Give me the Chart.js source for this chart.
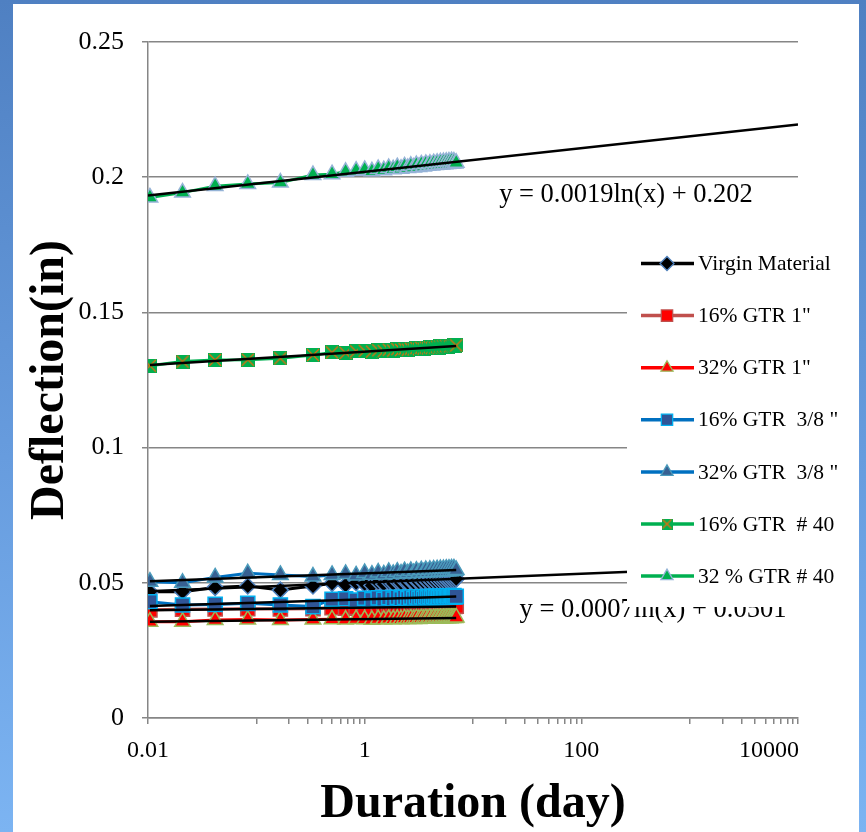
<!DOCTYPE html>
<html>
<head>
<meta charset="utf-8">
<script src="https://cdn.jsdelivr.net/npm/chart.js@4.4.1/dist/chart.umd.min.js"></script>
<style>
  html, body { margin: 0; padding: 0; }
  body {
    width: 866px; height: 832px; overflow: hidden; position: relative;
    background: linear-gradient(to bottom, #4f80c2 0%, #679cde 55%, #7cb4f2 100%);
  }
  #panel { position: absolute; left: 13px; top: 4px; width: 846px; height: 828px; background: #fff; }
  canvas { display: block; }
</style>
</head>
<body>
<div id="panel"><canvas id="deflectionChart" width="846" height="828"></canvas></div>
<script>
// readings: elapsed time in hours, deflection in inches
var durationHours = [0.25, 0.5, 1, 2, 4, 8, 12, 16, 20, 24,
    28, 32, 36, 40, 44, 48, 52, 56, 60, 64,
    68, 72, 76, 80, 84, 88, 92, 96, 100, 104,
    108, 112, 116, 120, 124, 128, 132, 136, 140, 144,
    148, 152, 156, 160, 164, 168];

var virginMaterial = [0.0467, 0.0467, 0.0483, 0.0488, 0.0473, 0.0488, 0.0498, 0.0492, 0.0500, 0.0496,
    0.0490, 0.0502, 0.0495, 0.0504, 0.0497, 0.0505, 0.0499, 0.0506, 0.0500, 0.0507,
    0.0501, 0.0508, 0.0502, 0.0509, 0.0503, 0.0510, 0.0504, 0.0510, 0.0505, 0.0511,
    0.0505, 0.0512, 0.0506, 0.0512, 0.0507, 0.0513, 0.0507, 0.0513, 0.0508, 0.0514,
    0.0508, 0.0514, 0.0509, 0.0515, 0.0510, 0.0515];

var gtr16OneInch = [0.0400, 0.0402, 0.0403, 0.0404, 0.0403, 0.0404, 0.0408, 0.0406, 0.0409, 0.0407,
    0.0405, 0.0409, 0.0406, 0.0410, 0.0407, 0.0410, 0.0407, 0.0411, 0.0408, 0.0411,
    0.0408, 0.0412, 0.0409, 0.0412, 0.0409, 0.0412, 0.0410, 0.0413, 0.0410, 0.0413,
    0.0410, 0.0413, 0.0411, 0.0414, 0.0411, 0.0414, 0.0411, 0.0414, 0.0412, 0.0415,
    0.0412, 0.0415, 0.0412, 0.0415, 0.0413, 0.0414];

var gtr32OneInch = [0.0356, 0.0356, 0.0362, 0.0364, 0.0362, 0.0364, 0.0365, 0.0364, 0.0366, 0.0365,
    0.0363, 0.0366, 0.0364, 0.0367, 0.0365, 0.0367, 0.0365, 0.0368, 0.0366, 0.0368,
    0.0366, 0.0369, 0.0366, 0.0369, 0.0367, 0.0369, 0.0367, 0.0370, 0.0367, 0.0370,
    0.0368, 0.0370, 0.0368, 0.0371, 0.0368, 0.0371, 0.0369, 0.0371, 0.0369, 0.0372,
    0.0369, 0.0372, 0.0370, 0.0372, 0.0370, 0.0372];

var gtr16ThreeEighth = [0.0430, 0.0418, 0.0420, 0.0424, 0.0418, 0.0412, 0.0439, 0.0441, 0.0436, 0.0443,
    0.0438, 0.0444, 0.0439, 0.0445, 0.0440, 0.0446, 0.0441, 0.0446, 0.0442, 0.0447,
    0.0442, 0.0448, 0.0443, 0.0448, 0.0443, 0.0449, 0.0444, 0.0449, 0.0444, 0.0450,
    0.0445, 0.0450, 0.0445, 0.0451, 0.0446, 0.0451, 0.0446, 0.0452, 0.0447, 0.0452,
    0.0447, 0.0452, 0.0448, 0.0453, 0.0448, 0.0450];

var gtr32ThreeEighth = [0.0504, 0.0500, 0.0520, 0.0535, 0.0529, 0.0523, 0.0529, 0.0533, 0.0527, 0.0536,
    0.0530, 0.0538, 0.0531, 0.0540, 0.0533, 0.0541, 0.0534, 0.0543, 0.0535, 0.0544,
    0.0536, 0.0545, 0.0537, 0.0546, 0.0538, 0.0547, 0.0539, 0.0548, 0.0540, 0.0549,
    0.0540, 0.0550, 0.0541, 0.0551, 0.0542, 0.0551, 0.0542, 0.0552, 0.0543, 0.0552,
    0.0543, 0.0553, 0.0544, 0.0553, 0.0545, 0.0547];

var gtr16No40 = [0.1303, 0.1318, 0.1324, 0.1325, 0.1330, 0.1342, 0.1352, 0.1350, 0.1356, 0.1358,
    0.1355, 0.1360, 0.1357, 0.1362, 0.1359, 0.1364, 0.1361, 0.1365, 0.1362, 0.1366,
    0.1363, 0.1368, 0.1364, 0.1369, 0.1366, 0.1370, 0.1367, 0.1371, 0.1368, 0.1372,
    0.1369, 0.1373, 0.1370, 0.1374, 0.1371, 0.1375, 0.1372, 0.1376, 0.1373, 0.1376,
    0.1374, 0.1377, 0.1375, 0.1378, 0.1376, 0.1378];

var gtr32No40 = [0.1925, 0.1943, 0.1967, 0.1975, 0.1980, 0.2008, 0.2011, 0.2020, 0.2024, 0.2027,
    0.2022, 0.2030, 0.2026, 0.2034, 0.2029, 0.2037, 0.2031, 0.2040, 0.2034, 0.2042,
    0.2036, 0.2045, 0.2038, 0.2047, 0.2040, 0.2049, 0.2042, 0.2050, 0.2043, 0.2052,
    0.2045, 0.2053, 0.2046, 0.2055, 0.2047, 0.2056, 0.2048, 0.2057, 0.2049, 0.2058,
    0.2050, 0.2059, 0.2050, 0.2058, 0.2051, 0.2053];

var seriesNames = ['Virgin Material', '16% GTR 1"', '32% GTR 1"', '16% GTR  3/8 "',
    '32% GTR  3/8 "', '16% GTR  # 40', '32 % GTR # 40'];

// Excel-style log trendlines shown with their equations (forecast out to the axis end)
var virginTrend = { slope: 0.0007, intercept: 0.0501, label: 'y = 0.0007ln(x) + 0.0501' };
var gtr32No40Trend = { slope: 0.0019, intercept: 0.202, label: 'y = 0.0019ln(x) + 0.202' };

var xLabelValues = [0.01, 1, 100, 10000];
var xTickLabels = ['0.01', '1', '100', '10000'];
var yTickLabels = ['0', '0.05', '0.1', '0.15', '0.2', '0.25'];

var SERIF = '"Liberation Serif", "Times New Roman", serif';

function crossSquare(size) {
    var c = document.createElement('canvas');
    c.width = size; c.height = size;
    var g = c.getContext('2d');
    g.fillStyle = '#00b050';
    g.fillRect(0, 0, size, size);
    g.strokeStyle = '#e46c0a';
    g.lineWidth = 1.3;
    g.beginPath();
    g.moveTo(1, 1); g.lineTo(size - 1, size - 1);
    g.moveTo(size - 1, 1); g.lineTo(1, size - 1);
    g.stroke();
    return c;
}

var seriesStyles = [
    { line: '#000000', fill: '#000000', edge: '#4f81bd', style: 'rectRot', radius: 8 },
    { line: '#c0504d', fill: '#ff0000', edge: '#c0504d', style: 'rect', radius: 10 },
    { line: '#ff0000', fill: '#ff0000', edge: '#9bbb59', style: 'triangle', radius: 9 },
    { line: '#0070c0', fill: '#2f5597', edge: '#00b0f0', style: 'rect', radius: 10 },
    { line: '#0070c0', fill: '#376092', edge: '#4a9abb', style: 'triangle', radius: 9 },
    { line: '#00b050', fill: '#00b050', edge: '#e46c0a', style: crossSquare(14), legendStyle: crossSquare(11), radius: 7 },
    { line: '#00b050', fill: '#00b050', edge: '#95b3d7', style: 'triangle', radius: 9 }
];

function logFit(xs, ys) {
    var n = xs.length, sx = 0, sy = 0, sxx = 0, sxy = 0;
    for (var i = 0; i < n; i++) {
        var lx = Math.log(xs[i]);
        sx += lx; sy += ys[i]; sxx += lx * lx; sxy += lx * ys[i];
    }
    var slope = (n * sxy - sx * sy) / (n * sxx - sx * sx);
    return { slope: slope, intercept: (sy - slope * sx) / n };
}

function trendPoints(fit, x0, x1) {
    return [x0, x1].map(function (x) { return { x: x, y: fit.slope * Math.log(x) + fit.intercept }; });
}

document.addEventListener('DOMContentLoaded', function () {
    var days = durationHours.map(function (h) { return h / 24; });
    var allSeries = [virginMaterial, gtr16OneInch, gtr32OneInch, gtr16ThreeEighth,
        gtr32ThreeEighth, gtr16No40, gtr32No40];

    var datasets = allSeries.map(function (vals, i) {
        var s = seriesStyles[i];
        return {
            label: seriesNames[i],
            data: vals.map(function (v, k) { return { x: days[k], y: v }; }),
            borderColor: s.line,
            borderWidth: 3,
            backgroundColor: s.fill,
            pointStyle: s.style,
            pointRadius: s.radius,
            pointBackgroundColor: s.fill,
            pointBorderColor: s.edge,
            pointBorderWidth: 1.5,
            tension: 0,
            order: 20 - i
        };
    });

    // black trendlines: forecast ones from the printed equations, the rest fitted to the data
    allSeries.forEach(function (vals, i) {
        var pts;
        if (i === 0) pts = trendPoints(virginTrend, 0.01, 10000);
        else if (i === 6) pts = trendPoints(gtr32No40Trend, 0.01, 10000);
        else pts = trendPoints(logFit(days, vals), days[0], days[days.length - 1]);
        datasets.push({
            label: 'trend ' + i,
            data: pts,
            borderColor: '#000000',
            borderWidth: 2.5,
            pointRadius: 0,
            tension: 0,
            order: 1
        });
    });

    var xTickValues = [0.01];
    [1, 100, 10000].forEach(function (major) {
        for (var m = 1; m <= 10; m++) xTickValues.push(major / 10 * m);
    });

    var overlayPlugin = {
        id: 'overlay',
        afterDatasetsDraw: function (chart) {
            var ctx = chart.ctx;
            var xs = chart.scales.x;
            ctx.save();
            ctx.fillStyle = '#000';
            ctx.font = '26.5px ' + SERIF;
            ctx.textAlign = 'center';
            ctx.textBaseline = 'middle';
            ctx.fillText(gtr32No40Trend.label, 613, 191);
            ctx.fillText(virginTrend.label, 640, 606);

            // last x label sits flush with the axis end, as in Excel
            ctx.font = '24px ' + SERIF;
            ctx.textAlign = 'right';
            ctx.fillText(xTickLabels[xTickLabels.length - 1], xs.right + 1, xs.top + 32.4);

            // legend box
            ctx.fillStyle = '#ffffff';
            ctx.fillRect(614, 232, 232, 371);
            ctx.font = '21.5px ' + SERIF;
            ctx.textAlign = 'left';
            seriesNames.forEach(function (name, i) {
                var s = seriesStyles[i];
                var y = 259.5 + i * 52.1;
                ctx.strokeStyle = s.line;
                ctx.lineWidth = 3.5;
                ctx.beginPath();
                ctx.moveTo(628, y);
                ctx.lineTo(681, y);
                ctx.stroke();
                ctx.fillStyle = s.fill;
                ctx.strokeStyle = s.edge;
                ctx.lineWidth = 1.3;
                Chart.helpers.drawPoint(ctx, {
                    pointStyle: s.legendStyle || s.style,
                    radius: s.style === 'rect' ? 8 : 7,
                    rotation: 0,
                    borderWidth: 1.3
                }, 654, y);
                ctx.fillStyle = '#000';
                ctx.fillText(name, 685, y + 1);
            });
            ctx.restore();
        }
    };

    var ctx = document.getElementById('deflectionChart').getContext('2d');
    new Chart(ctx, {
        type: 'line',
        data: { datasets: datasets },
        options: {
            responsive: false,
            animation: false,
            devicePixelRatio: 1,
            layout: { padding: { left: 0, right: 61, top: 38, bottom: 0 } },
            plugins: { legend: { display: false }, tooltip: { enabled: false } },
            scales: {
                x: {
                    type: 'logarithmic',
                    min: 0.01,
                    max: 10000,
                    afterBuildTicks: function (scale) {
                        scale.ticks = xTickValues.map(function (v) { return { value: v }; });
                    },
                    afterFit: function (scale) { scale.height = 114; },
                    ticks: {
                        autoSkip: false,
                        maxRotation: 0,
                        padding: 12,
                        color: '#000',
                        font: { family: SERIF, size: 24 },
                        callback: function (value) {
                            // the last label is drawn by the overlay plugin
                            for (var i = 0; i < xLabelValues.length - 1; i++) {
                                if (Math.abs(Math.log10(value) - Math.log10(xLabelValues[i])) < 1e-6) return xTickLabels[i];
                            }
                            return '';
                        }
                    },
                    grid: { drawOnChartArea: false, drawTicks: true, tickLength: 6, color: '#868686', lineWidth: 1.5 },
                    border: { display: true, color: '#868686', width: 1.5 },
                    title: {
                        display: true, text: 'Duration (day)', color: '#000',
                        font: { family: SERIF, size: 48, weight: 'bold', lineHeight: 1.1 },
                        padding: { top: 0, bottom: 1 }
                    }
                },
                y: {
                    min: 0,
                    max: 0.25,
                    afterFit: function (scale) { scale.width = 135; },
                    ticks: {
                        stepSize: 0.05,
                        padding: 18,
                        color: '#000',
                        font: { family: SERIF, size: 26 },
                        callback: function (value) { return yTickLabels[Math.round(value / 0.05)]; }
                    },
                    grid: { color: '#868686', lineWidth: 1.5, tickLength: 6, drawTicks: true },
                    border: { display: true, color: '#868686', width: 1.5 },
                    title: {
                        display: true, text: 'Deflection(in)', color: '#000',
                        font: { family: SERIF, size: 48, weight: 'bold' },
                        padding: { top: 9, bottom: 0 }
                    }
                }
            }
        },
        plugins: [overlayPlugin]
    });
});
</script>
</body>
</html>
